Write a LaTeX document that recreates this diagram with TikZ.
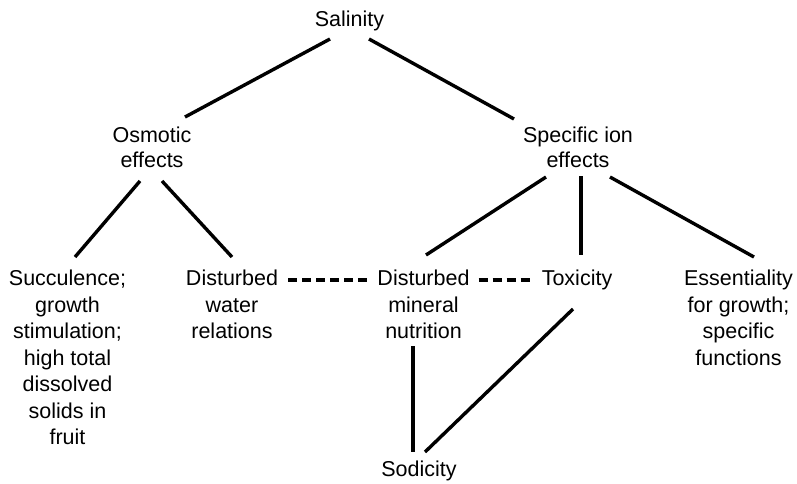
\documentclass[tikz,border=0pt]{standalone}
\usepackage{fontspec}
\setmainfont{Liberation Sans}

\tikzset{
    feld/.style={align=center, inner sep=0pt, anchor=base, font=\fontsize{21.5}{26.5}\selectfont},
    knapp/.style={feld, font=\fontsize{21.5}{25}\selectfont},
    ast/.style={line width=3.4pt},
    gestrichelt/.style={line width=3.4pt, dash pattern=on 9pt off 5pt}
}

\begin{document}
\begin{tikzpicture}[x=1pt, y=-1pt]
    \useasboundingbox (0,0) rectangle (797,483);
    % base = baseline of the last line
    \path node[feld] (Sal) at (349.5,26.7) {Salinity}
        node[knapp] (Osm) at (152,167) {Osmotic\\effects}
        node[knapp] (Spec) at (578,167) {Specific ion\\effects}
        node[feld] (Succ) at (67.5,444.5) {Succulence;\\growth\\stimulation;\\high total\\dissolved\\solids in\\fruit}
        node[feld] (Water) at (232,338.5) {Disturbed\\water\\relations}
        node[feld] (Min) at (423.5,338.5) {Disturbed\\mineral\\nutrition}
        node[feld] (Tox) at (577,285.5) {Toxicity}
        node[feld] (Ess) at (738.5,365) {Essentiality\\for growth;\\specific\\functions}
        node[feld] (Sod) at (419,476.7) {Sodicity};
        \draw[ast] ([shift={(-19.5,12.3)}]Sal.base) -- ([shift={(33,-50)}]Osm.base);
        \draw[ast] ([shift={(19.5,12.3)}]Sal.base) -- ([shift={(-64,-48)}]Spec.base);
        \draw[ast] ([shift={(-12,14)}]Osm.base) -- ([shift={(7.5,-187.5)}]Succ.base);
        \draw[ast] ([shift={(10,14)}]Osm.base) -- ([shift={(0,-81.5)}]Water.base);
        \draw[ast] ([shift={(-32,10)}]Spec.base) -- ([shift={(2.5,-83.5)}]Min.base);
        \draw[ast] ([shift={(3,9)}]Spec.base) -- ([shift={(4,-30.5)}]Tox.base);
        \draw[ast] ([shift={(32,10)}]Spec.base) -- ([shift={(15.5,-108)}]Ess.base);
        \draw[gestrichelt] ([shift={(10,-58.5)}]Water.base east) -- ([shift={(-10,-58.5)}]Min.base west);
        \draw[gestrichelt] ([shift={(9,-58.5)}]Min.base east) -- ([shift={(-10,-5.5)}]Tox.base west);
        \draw[ast] ([shift={(-10.5,7.5)}]Min.base) -- ([shift={(-6,-24.7)}]Sod.base);
        \draw[ast] ([shift={(-4,23.5)}]Tox.base) -- ([shift={(6,-24.7)}]Sod.base);
\end{tikzpicture}
\end{document}
